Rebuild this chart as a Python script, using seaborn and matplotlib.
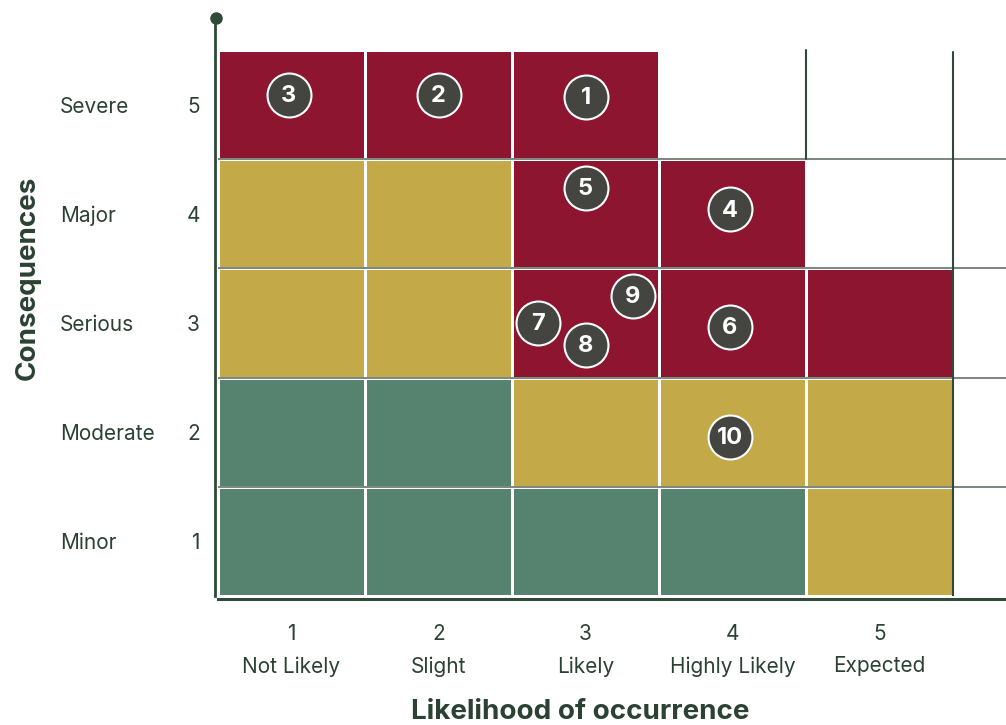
import numpy as np
import pandas as pd
import matplotlib
matplotlib.use("Agg")
import matplotlib.pyplot as plt
import matplotlib.transforms as mtransforms
from matplotlib.colors import ListedColormap
import seaborn as sns

# Consequence rows (top to bottom) and likelihood columns
consequences = ["Severe", "Major", "Serious", "Moderate", "Minor"]
consequence_scores = [5, 4, 3, 2, 1]
likelihoods = ["Not Likely", "Slight", "Likely", "Highly Likely", "Expected"]
likelihood_scores = [1, 2, 3, 4, 5]

# risk level per cell: 0 = low, 1 = medium, 2 = high, nan = blank
severe_row = [2, 2, 2, np.nan, np.nan]
major_row = [1, 1, 2, 2, np.nan]
serious_row = [1, 1, 2, 2, 2]
moderate_row = [0, 0, 1, 1, 1]
minor_row = [0, 0, 0, 0, 1]

# numbered risks, placed by likelihood / consequence score
risk_ids = [1, 2, 3, 4, 5, 6, 7, 8, 9, 10]
risk_likelihood = [3.0, 2.0, 0.98, 3.98, 3.0, 3.98, 2.68, 3.0, 3.32, 3.98]
risk_consequence = [5.07, 5.09, 5.09, 4.04, 4.24, 2.96, 3.0, 2.8, 3.25, 1.96]

TEXT = "#2b4233"
AXIS = "#2f4a38"
level_colors = ["#55836f", "#c4a948", "#8e1530"]

sns.set_theme(style="white")
plt.rcParams["font.family"] = ["Inter", "DejaVu Sans"]

grid = pd.DataFrame([severe_row, major_row, serious_row, moderate_row, minor_row],
                    index=consequences, columns=likelihoods)

fig = plt.figure(figsize=(10.06, 7.25), dpi=100)
ax = fig.add_axes([218 / 1006, 1 - 596 / 725, 788 / 1006, 578 / 725])

sns.heatmap(grid, ax=ax, cmap=ListedColormap(level_colors), vmin=-0.5, vmax=2.5,
            cbar=False, linewidths=0.8, linecolor="white", square=False)

ax.set_xlim(0, 788 / 147)
ax.set_ylim(5, -32 / 109.2)

# grid lines over the matrix
for yb in [1, 2, 3, 4]:
    ax.axhline(yb, color="#3d4f42", lw=1.2, alpha=0.8, zorder=2)
ax.plot([5, 5], [0.02, 5], color=AXIS, lw=1.5, zorder=2)
ax.plot([4, 4], [0, 1], color=AXIS, lw=1.5, zorder=2)

# risk bubbles
risks = pd.DataFrame({"id": risk_ids,
                      "x": np.array(risk_likelihood) - 0.5,
                      "y": 5.5 - np.array(risk_consequence)})
sns.scatterplot(data=risks, x="x", y="y", ax=ax, s=1000, color="#444441",
                edgecolor="white", linewidth=1.5, zorder=4, legend=False)
for _, r in risks.iterrows():
    ax.text(r["x"], r["y"] + 0.01, str(int(r["id"])), ha="center", va="center",
            color="white", fontsize=17, fontweight="bold", zorder=5)

# axes spines
sns.despine(ax=ax, top=True, right=True, left=False, bottom=False)
for side in ["left", "bottom"]:
    ax.spines[side].set_visible(True)
    ax.spines[side].set_color(AXIS)
    ax.spines[side].set_position(("outward", 2))
ax.spines["left"].set_linewidth(2)
ax.spines["bottom"].set_linewidth(2.2)
dot_tr = mtransforms.offset_copy(ax.transAxes, fig=fig, x=-2, y=0, units="dots")
ax.plot([0], [1], "o", color=AXIS, markersize=8, transform=dot_tr, clip_on=False)

# ticks
ax.set_xticks(np.arange(5) + 0.5)
ax.set_xticklabels([f"{s}\n{n}" for s, n in zip(likelihood_scores, likelihoods)],
                   rotation=0, fontsize=15, color=TEXT, linespacing=1.75)
ax.set_yticks(np.arange(5) + 0.5)
ax.set_yticklabels([str(s) for s in consequence_scores], rotation=0,
                   fontsize=15, color=TEXT)
ax.tick_params(axis="x", length=0, pad=18)
ax.tick_params(axis="y", length=0, pad=11)
ax.set_xlabel("")
ax.set_ylabel("")

name_tr = mtransforms.blended_transform_factory(fig.transFigure, ax.transData)
for i, name in enumerate(consequences):
    ax.text(60 / 1006, i + 0.5, name, transform=name_tr, ha="left",
            va="center_baseline", fontsize=15, color=TEXT)

fig.text(28 / 1006, 1 - 278 / 725, "Consequences", rotation=90, ha="center",
         va="center", fontsize=20, fontweight="bold", color=TEXT)
fig.text(580 / 1006, 1 - 712 / 725, "Likelihood of occurrence", ha="center",
         va="center", fontsize=20, fontweight="bold", color=TEXT)

fig.savefig("out.png", dpi=100)
